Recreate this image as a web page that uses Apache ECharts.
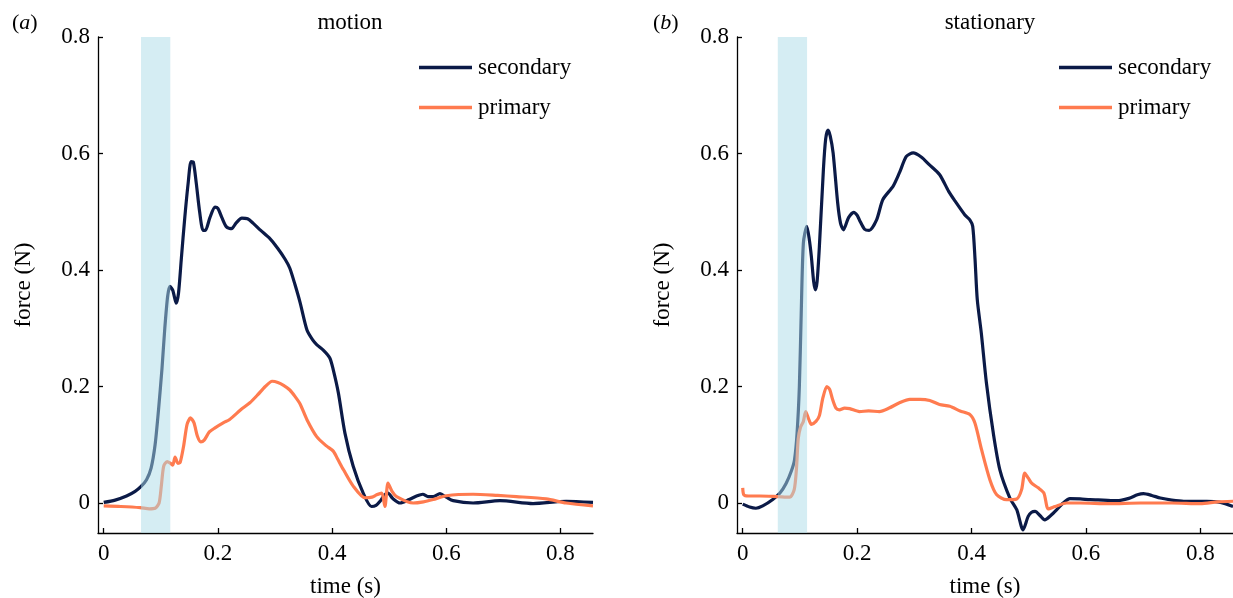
<!DOCTYPE html>
<html>
<head>
<meta charset="utf-8">
<title>force traces</title>
<script src="https://cdn.jsdelivr.net/npm/echarts@6/dist/echarts.min.js"></script>
<style>
html,body{margin:0;padding:0;background:#fff;}
#chart{width:1233px;height:598px;}
</style>
</head>
<body>
<div id="chart"></div>
<script>

// tick values
const xTicks=[0,0.2,0.4,0.6,0.8];
const yTicks=[0,0.2,0.4,0.6,0.8];

const panelTitles=["motion","stationary"];
const panelLetters=["a","b"];

// shaded window [start,end] per panel
const bands=[[0.0654,0.1166],[0.0613,0.1125]];

// (a) motion
const motionSecondary=[
[0,0.001],[0.02,0.005],[0.04,0.012],[0.055,0.02],[0.065,0.028],[0.075,0.04],[0.083,0.06],
[0.09,0.1],[0.096,0.16],[0.102,0.23],[0.107,0.3],[0.112,0.355],[0.116,0.372],[0.121,0.365],
[0.127,0.343],[0.131,0.36],[0.136,0.42],[0.142,0.49],[0.148,0.55],[0.153,0.586],[0.157,0.585],
[0.162,0.55],[0.168,0.5],[0.174,0.468],[0.178,0.468],[0.186,0.49],[0.195,0.508],[0.2,0.506],
[0.207,0.49],[0.215,0.474],[0.224,0.471],[0.232,0.481],[0.242,0.489],[0.252,0.488],[0.262,0.48],
[0.275,0.468],[0.29,0.455],[0.305,0.437],[0.318,0.418],[0.326,0.403],[0.335,0.375],[0.344,0.344],
[0.356,0.297],[0.366,0.28],[0.373,0.272],[0.385,0.262],[0.396,0.249],[0.402,0.229],[0.411,0.189],
[0.4225,0.12],[0.437,0.063],[0.4545,0.017],[0.469,-0.006],[0.477,-0.004],[0.484,0.003],[0.492,0.014],
[0.498,0.017],[0.506,0.008],[0.519,0.0],[0.535,0.006],[0.548,0.012],[0.559,0.015],[0.568,0.011],
[0.577,0.011],[0.589,0.016],[0.6,0.01],[0.612,0.004],[0.647,0.0],[0.694,0.004],[0.752,-0.001],
[0.81,0.003],[0.857,0.001]
];
const motionPrimary=[
[0,-0.005],[0.03,-0.006],[0.064,-0.008],[0.08,-0.01],[0.09,-0.009],[0.097,0.0],[0.101,0.03],
[0.105,0.063],[0.111,0.071],[0.117,0.068],[0.121,0.065],[0.125,0.079],[0.13,0.068],[0.134,0.07],
[0.14,0.098],[0.146,0.135],[0.152,0.146],[0.158,0.138],[0.164,0.115],[0.17,0.105],[0.176,0.108],
[0.185,0.122],[0.195,0.129],[0.21,0.138],[0.22,0.143],[0.24,0.16],[0.256,0.172],[0.27,0.186],
[0.283,0.2],[0.295,0.209],[0.305,0.207],[0.315,0.202],[0.326,0.194],[0.335,0.183],[0.344,0.17],
[0.356,0.143],[0.373,0.114],[0.39,0.098],[0.402,0.089],[0.41,0.075],[0.42,0.057],[0.437,0.029],
[0.4575,0.009],[0.47,0.01],[0.478,0.014],[0.487,0.017],[0.4925,-0.006],[0.498,0.034],[0.505,0.02],
[0.513,0.011],[0.542,0.0],[0.56,0.002],[0.577,0.006],[0.6,0.0125],[0.647,0.015],[0.69,0.013],
[0.723,0.011],[0.775,0.007],[0.81,0.0],[0.857,-0.005]
];

// (b) stationary
const stationarySecondary=[
[0,-0.002],[0.012,-0.007],[0.023,-0.009],[0.035,-0.005],[0.0525,0.006],[0.065,0.017],[0.076,0.034],
[0.085,0.055],[0.0905,0.074],[0.095,0.12],[0.099,0.2],[0.102,0.315],[0.106,0.446],[0.112,0.475],
[0.116,0.455],[0.12,0.423],[0.124,0.38],[0.127,0.366],[0.13,0.38],[0.134,0.44],[0.141,0.572],
[0.145,0.625],[0.149,0.64],[0.153,0.63],[0.158,0.601],[0.166,0.515],[0.171,0.48],[0.176,0.469],
[0.185,0.49],[0.194,0.499],[0.2,0.494],[0.204,0.486],[0.213,0.47],[0.221,0.468],[0.234,0.486],
[0.245,0.521],[0.263,0.544],[0.274,0.567],[0.286,0.595],[0.298,0.601],[0.312,0.594],[0.326,0.581],
[0.344,0.564],[0.36,0.535],[0.37,0.52],[0.388,0.495],[0.397,0.486],[0.402,0.475],[0.406,0.42],
[0.41,0.349],[0.417,0.292],[0.426,0.206],[0.438,0.12],[0.4495,0.057],[0.467,0.0085],[0.479,-0.0115],
[0.49,-0.046],[0.499,-0.023],[0.505,-0.016],[0.511,-0.0145],[0.52,-0.022],[0.528,-0.029],[0.538,-0.022],
[0.549,-0.0115],[0.56,0.0],[0.572,0.0075],[0.59,0.007],[0.607,0.0057],[0.63,0.005],[0.654,0.004],
[0.675,0.008],[0.69,0.014],[0.7005,0.016],[0.715,0.013],[0.73,0.0085],[0.75,0.005],[0.771,0.003],
[0.811,0.003],[0.835,0.001],[0.857,-0.006]
];
const stationaryPrimary=[
[0,0.026],[0.002,0.014],[0.01,0.012],[0.03,0.012],[0.06,0.011],[0.082,0.01],[0.09,0.023],
[0.094,0.06],[0.097,0.11],[0.101,0.13],[0.106,0.14],[0.11,0.157],[0.115,0.145],[0.12,0.135],
[0.128,0.14],[0.134,0.15],[0.14,0.18],[0.147,0.2],[0.152,0.195],[0.157,0.178],[0.163,0.163],
[0.169,0.16],[0.178,0.163],[0.187,0.162],[0.204,0.157],[0.22,0.158],[0.239,0.157],[0.256,0.163],
[0.274,0.172],[0.292,0.178],[0.31,0.178],[0.327,0.176],[0.344,0.169],[0.362,0.166],[0.38,0.158],
[0.397,0.152],[0.406,0.137],[0.4175,0.0915],[0.432,0.04],[0.444,0.014],[0.461,0.0057],[0.479,0.007],
[0.4875,0.023],[0.493,0.0515],[0.499,0.043],[0.505,0.034],[0.5165,0.026],[0.5265,0.017],[0.534,-0.01],
[0.546,-0.006],[0.566,0.0],[0.59,0.0],[0.64,-0.001],[0.695,0.0],[0.75,0.0],[0.8,-0.001],
[0.83,0.002],[0.857,0.003]
];

const X_MIN=-0.01, X_MAX=0.857;
const Y_MIN=-0.0515, Y_MAX=0.8;

const NAVY="#0b1a47";
const CORAL="#ff7b4f";
const FONT="Liberation Serif";

const chart=echarts.init(document.getElementById("chart"),null,{renderer:"canvas"});

function fmt(v){
    return v===0 ? "0" : v.toFixed(1);
}

function xAxis(i){
    return {
        type:"value",gridIndex:i,min:X_MIN,max:X_MAX,
        name:"time (s)",nameLocation:"middle",nameGap:42,
        nameTextStyle:{fontFamily:FONT,fontSize:23,color:"#000"},
        axisLine:{onZero:false,lineStyle:{color:"#000",width:1.3}},
        axisTick:{inside:true,length:5,customValues:xTicks,lineStyle:{color:"#000",width:1.3}},
        axisLabel:{customValues:xTicks,formatter:fmt,margin:9,fontFamily:FONT,fontSize:23,color:"#000"},
        splitLine:{show:false}
    };
}

function yAxis(i){
    return {
        type:"value",gridIndex:i,min:Y_MIN,max:Y_MAX,
        name:"force (N)",nameLocation:"middle",nameGap:63,
        nameTextStyle:{fontFamily:FONT,fontSize:23,color:"#000"},
        axisLine:{show:true,onZero:false,lineStyle:{color:"#000",width:1.3}},
        axisTick:{show:true,inside:true,length:5,customValues:yTicks,lineStyle:{color:"#000",width:1.3}},
        axisLabel:{customValues:yTicks,formatter:fmt,margin:8,padding:[2,0,0,0],
            fontFamily:FONT,fontSize:23,color:"#000"},
        splitLine:{show:false}
    };
}

function trace(name,data,color,i){
    return {
        name:name,type:"line",data:data,xAxisIndex:i,yAxisIndex:i,
        showSymbol:false,symbol:"none",smooth:0.25,z:2,
        color:color,lineStyle:{color:color,width:3.2}
    };
}

function band(i){
    return {
        name:"window",type:"custom",xAxisIndex:i,yAxisIndex:i,z:5,silent:true,
        data:[[bands[i][0],bands[i][1],Y_MAX,Y_MIN]],
        encode:{x:[0,1],y:[2,3]},
        renderItem(params,api){
            const a=api.coord([api.value(0),api.value(2)]);
            const b=api.coord([api.value(1),api.value(3)]);
            return {
                type:"rect",
                shape:{x:a[0],y:a[1],width:b[0]-a[0],height:b[1]-a[1]},
                style:{fill:"rgba(171,219,231,0.5)"}
            };
        }
    };
}

function legend(left){
    return {
        data:["secondary","primary"],orient:"vertical",left:left,top:56,
        icon:"rect",itemWidth:53,itemHeight:3.5,itemGap:17,padding:0,
        selectedMode:false,
        textStyle:{fontFamily:FONT,fontSize:23,lineHeight:23,color:"#000",padding:[0,0,0,1]}
    };
}

function letter(text,left){
    return {
        text:"({i|"+text+"})",left:left,top:7,
        textStyle:{
            fontFamily:FONT,fontSize:22,fontWeight:"normal",color:"#000",
            rich:{i:{fontFamily:FONT,fontSize:22,fontStyle:"italic",color:"#000"}}
        }
    };
}

chart.setOption({
    animation:false,
    backgroundColor:"#fff",
    title:[
        {text:panelTitles[0],left:345,top:6,textAlign:"center",
         textStyle:{fontFamily:FONT,fontSize:23,fontWeight:"normal",color:"#000"}},
        {text:panelTitles[1],left:985,top:6,textAlign:"center",
         textStyle:{fontFamily:FONT,fontSize:23,fontWeight:"normal",color:"#000"}},
        letter(panelLetters[0],7),
        letter(panelLetters[1],648)
    ],
    legend:[legend(419),legend(1059)],
    grid:[
        {left:98,right:640,top:37,bottom:65,outerBoundsMode:"none",containLabel:false},
        {left:737,right:0,top:37,bottom:65,outerBoundsMode:"none",containLabel:false}
    ],
    xAxis:[xAxis(0),xAxis(1)],
    yAxis:[yAxis(0),yAxis(1)],
    series:[
        trace("secondary",motionSecondary,NAVY,0),
        trace("primary",motionPrimary,CORAL,0),
        band(0),
        trace("secondary",stationarySecondary,NAVY,1),
        trace("primary",stationaryPrimary,CORAL,1),
        band(1)
    ]
});

window.addEventListener("resize",()=>chart.resize());
</script>
</body>
</html>
